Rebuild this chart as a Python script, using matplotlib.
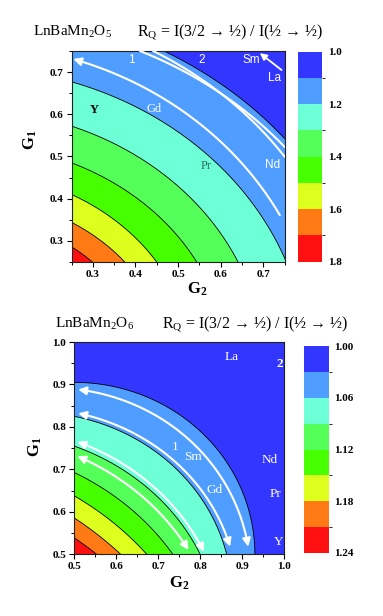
import numpy as np
import matplotlib
matplotlib.use('Agg')
import matplotlib.pyplot as plt
from matplotlib.colors import ListedColormap, BoundaryNorm
from matplotlib.cm import ScalarMappable
from matplotlib.patches import FancyArrowPatch
from matplotlib.path import Path
from matplotlib.ticker import MultipleLocator, FormatStrFormatter

plt.rcParams['font.family'] = ['Liberation Serif', 'DejaVu Serif']
plt.rcParams['mathtext.fontset'] = 'custom'
plt.rcParams['mathtext.rm'] = 'Liberation Serif'
plt.rcParams['mathtext.it'] = 'Liberation Serif:italic'
plt.rcParams['mathtext.bf'] = 'Liberation Serif:bold'

# ---------------- data ----------------
band_colors = ['#3236FF', '#4F9EFF', '#6DFFD6', '#55FF5A', '#46FF00',
               '#DDFF1E', '#FF7A14', '#FF1010']

# top panel: LnBaMn2O5
top_levels = [1.0, 1.1, 1.2, 1.3, 1.4, 1.5, 1.6, 1.7, 1.8]
top_cbar_ticks = [1.0, 1.2, 1.4, 1.6, 1.8]
top_cbar_labels = ['1.0', '1.2', '1.4', '1.6', '1.8']
# where each contour line (levels 1.1 ... 1.7) meets the frame, (G2, G1)
top_line_start = [(0.467, 0.75), (0.25, 0.677), (0.25, 0.572), (0.25, 0.485),
                  (0.25, 0.410), (0.25, 0.344), (0.25, 0.286)]
top_line_end = [(0.75, 0.543), (0.75, 0.260), (0.641, 0.25), (0.544, 0.25),
                (0.450, 0.25), (0.375, 0.25), (0.299, 0.25)]
top_line_centre = [0.0, 0.0, 0.0, 0.0, 0.0, 0.0, 0.0]
# white guide curves (start, end) in (G2, G1)
top_paths = [((0.739, 0.361), (0.254, 0.731)),   # path "1" (arrow at left end)
             ((0.411, 0.75), (0.75, 0.523)),     # path "2"
             ((0.442, 0.75), (0.75, 0.500))]     # path "2"
top_sm_la = ((0.743, 0.705), (0.692, 0.745))
top_labels = [('1', 0.391, 0.729), ('2', 0.555, 0.729), ('Sm', 0.672, 0.729),
              ('La', 0.727, 0.685), ('Nd', 0.723, 0.480)]
top_serif_labels = [('Gd', 0.444, 0.613, 'white', 'normal'),
                    ('Pr', 0.567, 0.477, '#2E6E66', 'normal'),
                    ('Y', 0.303, 0.610, 'black', 'bold')]

# bottom panel: LnBaMn2O6
bot_levels = [1.00, 1.03, 1.06, 1.09, 1.12, 1.15, 1.18, 1.21, 1.24]
bot_cbar_ticks = [1.00, 1.06, 1.12, 1.18, 1.24]
bot_cbar_labels = ['1.00', '1.06', '1.12', '1.18', '1.24']
bot_line_start = [(0.5, 0.905), (0.5, 0.825), (0.5, 0.755), (0.5, 0.693),
                  (0.5, 0.638), (0.5, 0.586), (0.5, 0.539)]
bot_line_end = [(0.930, 0.5), (0.863, 0.5), (0.800, 0.5), (0.735, 0.5),
                (0.673, 0.5), (0.611, 0.5), (0.554, 0.5)]
bot_line_centre = [0.5, 0.4, 0.3, 0.2, 0.1, 0.0, 0.0]
bot_paths = [((0.510, 0.888), (0.914, 0.518), 0.45),
             ((0.510, 0.832), (0.871, 0.518), 0.40),
             ((0.508, 0.765), (0.809, 0.506), 0.30),
             ((0.508, 0.731), (0.772, 0.510), 0.25)]
bot_labels = [('La', 0.875, 0.965, 'normal'), ('2', 0.990, 0.949, 'bold'),
              ('1', 0.740, 0.753, 'normal'), ('Sm', 0.784, 0.730, 'normal'),
              ('Gd', 0.835, 0.651, 'normal'), ('Nd', 0.966, 0.722, 'normal'),
              ('Pr', 0.978, 0.643, 'normal'), ('Y', 0.986, 0.530, 'normal')]

W, H = 383, 616


def ellipse_params(p1, p2, c):
    A = np.array([[(p1[0] - c) ** 2, (p1[1] - c) ** 2],
                  [(p2[0] - c) ** 2, (p2[1] - c) ** 2]])
    u, v = np.linalg.solve(A, [1.0, 1.0])
    return 1 / np.sqrt(u), 1 / np.sqrt(v)


def ellipse_arc(p1, p2, c, n=200, full=True):
    a, b = ellipse_params(p1, p2, c)
    if full:
        t = np.linspace(0, np.pi / 2, n)
    else:
        t1 = np.arctan2((p1[1] - c) / b, (p1[0] - c) / a)
        t2 = np.arctan2((p2[1] - c) / b, (p2[0] - c) / a)
        t = np.linspace(t1, t2, n)
    return c + a * np.cos(t), c + b * np.sin(t)


def draw_bands(ax, starts, ends, centres, colors):
    ax.set_facecolor(colors[0])
    for k, (p1, p2, c) in enumerate(zip(starts, ends, centres)):
        x, y = ellipse_arc(p1, p2, c)
        ax.fill(np.r_[c, x], np.r_[c, y], color=colors[k + 1], lw=0, zorder=1)
        ax.plot(x, y, color='black', lw=0.6, zorder=2)


def style_axes(ax, lo, hi):
    ax.set_xlim(lo, hi)
    ax.set_ylim(lo, hi)
    for ax_ in (ax.xaxis, ax.yaxis):
        ax_.set_major_locator(MultipleLocator(0.1))
        ax_.set_minor_locator(MultipleLocator(0.05))
        ax_.set_major_formatter(FormatStrFormatter('%.1f'))
    ax.tick_params(which='major', direction='out', length=3.5, width=0.8,
                   labelsize=8, pad=2, top=False, right=False)
    ax.tick_params(which='minor', direction='out', length=2, width=0.7,
                   top=False, right=False)
    for lab in ax.get_xticklabels() + ax.get_yticklabels():
        lab.set_fontweight('bold')
    for s in ax.spines.values():
        s.set_linewidth(0.8)
        s.set_color('#222222')


def add_cbar(fig, rect, levels, ticks, labels):
    cax = fig.add_axes(rect)
    cmap = ListedColormap(band_colors)
    norm = BoundaryNorm(levels, cmap.N)
    cb = fig.colorbar(ScalarMappable(norm=norm, cmap=cmap), cax=cax, ticks=ticks)
    cb.set_ticklabels(labels)
    cax.invert_yaxis()
    cb.outline.set_visible(False)
    cax.tick_params(length=0, labelsize=8, pad=4)
    for lab in cax.get_yticklabels():
        lab.set_fontweight('bold')
    return cb


def px_rect(x0, y0, x1, y1):
    return [x0 / W, 1 - y1 / H, (x1 - x0) / W, (y1 - y0) / H]


fig = plt.figure(figsize=(W / 100, H / 100), dpi=100)
fig.patch.set_facecolor('white')

# ---------------- top panel ----------------
ax1 = fig.add_axes(px_rect(71.5, 51, 284.5, 262))
draw_bands(ax1, top_line_start, top_line_end, top_line_centre, band_colors)
for i, (p1, p2) in enumerate(top_paths):
    x, y = ellipse_arc(p1, p2, 0.0, n=40, full=False)
    if i == 0:
        arr = FancyArrowPatch(path=Path(np.column_stack([x, y])),
                              arrowstyle='-|>,head_length=0.6,head_width=0.3',
                              mutation_scale=8, color='white', lw=1.5, zorder=4)
        ax1.add_patch(arr)
    else:
        ax1.plot(x, y, color='white', lw=1.5, zorder=4)
ax1.annotate('', xy=top_sm_la[1], xytext=top_sm_la[0],
             arrowprops=dict(arrowstyle='-|>,head_length=0.5,head_width=0.25',
                             color='white', lw=1.3, mutation_scale=8,
                             shrinkA=0, shrinkB=0), zorder=4)
for t, x, y in top_labels:
    ax1.text(x, y, t, color='white', fontsize=8.5, family='Liberation Sans',
             ha='center', va='center', zorder=5)
for t, x, y, c, w in top_serif_labels:
    ax1.text(x, y, t, color=c, fontsize=9, fontweight=w,
             ha='center', va='center', zorder=5)
style_axes(ax1, 0.25, 0.75)
add_cbar(fig, px_rect(297.7, 51.7, 322.3, 261.7), top_levels, top_cbar_ticks,
         top_cbar_labels)

fig.text(33 / W, 1 - 36 / H, 'LnBaMn$_2$O$_5$', fontsize=11, va='baseline')
fig.text(137 / W, 1 - 36 / H, 'R$_\\mathrm{Q}$ = I(3/2 → ½) / I(½ → ½)',
         fontsize=11.5, va='baseline')
fig.text(197 / W, 1 - 289 / H, 'G$_\\mathbf{2}$', fontsize=12, fontweight='bold',
         ha='center', va='center')
fig.text(30 / W, 1 - 140 / H, 'G$_\\mathbf{1}$', fontsize=12, fontweight='bold',
         ha='center', va='center', rotation=90)

# ---------------- bottom panel ----------------
ax2 = fig.add_axes(px_rect(74, 342, 284.3, 554.3))
draw_bands(ax2, bot_line_start, bot_line_end, bot_line_centre, band_colors)
for p1, p2, c in bot_paths:
    x, y = ellipse_arc(p1, p2, c, n=40, full=False)
    arr = FancyArrowPatch(path=Path(np.column_stack([x, y])),
                          arrowstyle='<|-|>,head_length=0.6,head_width=0.3',
                          mutation_scale=8, color='white', lw=1.5, zorder=4)
    ax2.add_patch(arr)
for t, x, y, w in bot_labels:
    ax2.text(x, y, t, color='white', fontsize=9.5, fontweight=w,
             ha='center', va='center', zorder=5)
style_axes(ax2, 0.5, 1.0)
add_cbar(fig, px_rect(304, 346, 329, 553), bot_levels, bot_cbar_ticks,
         bot_cbar_labels)

fig.text(55 / W, 1 - 327.7 / H, 'LnBaMn$_2$O$_6$', fontsize=11, va='baseline')
fig.text(162 / W, 1 - 327.7 / H, 'R$_\\mathrm{Q}$ = I(3/2 → ½) / I(½ → ½)',
         fontsize=11.5, va='baseline')
fig.text(179 / W, 1 - 583 / H, 'G$_\\mathbf{2}$', fontsize=12, fontweight='bold',
         ha='center', va='center')
fig.text(35 / W, 1 - 447 / H, 'G$_\\mathbf{1}$', fontsize=12, fontweight='bold',
         ha='center', va='center', rotation=90)

fig.savefig('out.png', dpi=100, facecolor='white')
